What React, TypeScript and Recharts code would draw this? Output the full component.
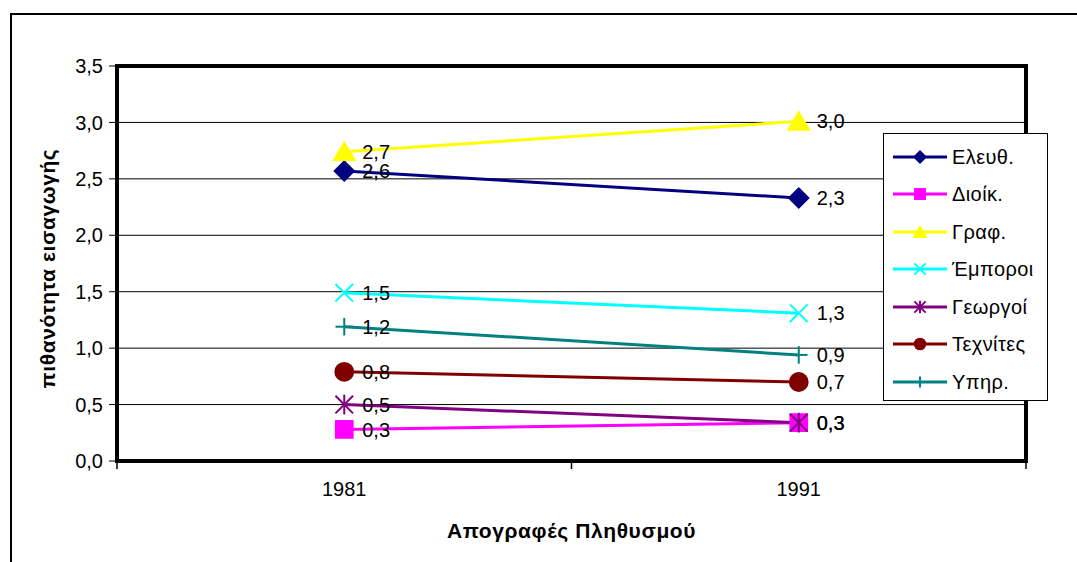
// Line chart: probability of admission by parental occupation, census 1981 vs 1991
import React from 'react';
import {
  LineChart,
  Line,
  XAxis,
  YAxis,
  CartesianGrid,
  Legend,
  LabelList,
  ReferenceArea,
} from 'recharts';

// ---- data ----
const years = ['1981', '1991'];
const eleuth = [2.57, 2.33];
const dioik = [0.28, 0.34];
const graf = [2.74, 3.01];
const emporoi = [1.49, 1.31];
const georgoi = [0.5, 0.34];
const texnites = [0.79, 0.7];
const yphr = [1.19, 0.94];
const yTicks = [0, 0.5, 1, 1.5, 2, 2.5, 3, 3.5];

type MarkerKind = 'diamond' | 'square' | 'triangle' | 'x' | 'star' | 'circle' | 'plus';

type Series = { key: string; name: string; color: string; marker: MarkerKind; values: number[] };

const series: Series[] = [
  { key: 'eleuth', name: 'Ελευθ.', color: '#000080', marker: 'diamond', values: eleuth },
  { key: 'dioik', name: 'Διοίκ.', color: '#FF00FF', marker: 'square', values: dioik },
  { key: 'graf', name: 'Γραφ.', color: '#FFFF00', marker: 'triangle', values: graf },
  { key: 'emporoi', name: 'Έμποροι', color: '#00FFFF', marker: 'x', values: emporoi },
  { key: 'georgoi', name: 'Γεωργοί', color: '#800080', marker: 'star', values: georgoi },
  { key: 'texnites', name: 'Τεχνίτες', color: '#800000', marker: 'circle', values: texnites },
  { key: 'yphr', name: 'Υπηρ.', color: '#008080', marker: 'plus', values: yphr },
];

const chartData = years.map((year, i) => {
  const row: Record<string, string | number> = { year };
  series.forEach((s) => {
    row[s.key] = s.values[i];
  });
  return row;
});

const FONT = '"Liberation Sans", Arial, sans-serif';
const comma = (v: number) => Number(v).toFixed(1).replace('.', ',');
const titleStyle = { fontFamily: FONT, fontSize: 21, fontWeight: 'bold', fill: '#000', letterSpacing: 0.6 };

const X_TICK_SIZE = 6;
const X_TICK_MARGIN = 15;

// draws one marker shape centred on (cx, cy); s = half size
const renderMarker = (kind: MarkerKind, color: string, cx: number, cy: number, s: number, key?: string) => {
  switch (kind) {
    case 'diamond':
      return (
        <polygon key={key} points={`${cx},${cy - s} ${cx + s},${cy} ${cx},${cy + s} ${cx - s},${cy}`} fill={color} />
      );
    case 'square':
      return <rect key={key} x={cx - s * 0.85} y={cy - s * 0.85} width={s * 1.7} height={s * 1.7} fill={color} />;
    case 'triangle':
      return (
        <polygon
          key={key}
          points={`${cx},${cy - s} ${cx + s * 1.1},${cy + s * 0.85} ${cx - s * 1.1},${cy + s * 0.85}`}
          fill={color}
        />
      );
    case 'x':
      return (
        <g key={key} stroke={color} strokeWidth={2}>
          <line x1={cx - s * 0.8} y1={cy - s * 0.8} x2={cx + s * 0.8} y2={cy + s * 0.8} />
          <line x1={cx - s * 0.8} y1={cy + s * 0.8} x2={cx + s * 0.8} y2={cy - s * 0.8} />
        </g>
      );
    case 'star':
      return (
        <g key={key} stroke={color} strokeWidth={2}>
          <line x1={cx - s * 0.8} y1={cy - s * 0.8} x2={cx + s * 0.8} y2={cy + s * 0.8} />
          <line x1={cx - s * 0.8} y1={cy + s * 0.8} x2={cx + s * 0.8} y2={cy - s * 0.8} />
          <line x1={cx} y1={cy - s * 0.9} x2={cx} y2={cy + s * 0.9} />
        </g>
      );
    case 'circle':
      return <circle key={key} cx={cx} cy={cy} r={s * 0.9} fill={color} />;
    case 'plus':
    default:
      return (
        <g key={key} stroke={color} strokeWidth={2}>
          <line x1={cx - s * 0.8} y1={cy} x2={cx + s * 0.8} y2={cy} />
          <line x1={cx} y1={cy - s * 0.8} x2={cx} y2={cy + s * 0.8} />
        </g>
      );
  }
};

// category tick: label at band centre, tick marks on the band boundaries (Excel style)
const renderXTick = (p: any) => {
  const half = p.payload && p.payload.offset ? p.payload.offset : 0;
  const axisY = p.y - X_TICK_SIZE - X_TICK_MARGIN;
  const isLast = p.index === (p.visibleTicksCount ?? years.length) - 1;
  return (
    <g key={`xt-${p.index}`}>
      <line x1={p.x - half} y1={axisY} x2={p.x - half} y2={axisY + 8} stroke="#000" strokeWidth={1.5} />
      {isLast && <line x1={p.x + half} y1={axisY} x2={p.x + half} y2={axisY + 8} stroke="#000" strokeWidth={1.5} />}
      <text x={p.x} y={p.y} dy="0.71em" textAnchor="middle" style={{ fontFamily: FONT, fontSize: 20, fill: '#000' }}>
        {p.payload ? p.payload.value : ''}
      </text>
    </g>
  );
};

const ChartLegend = () => (
  <div
    style={{
      width: '100%',
      height: '100%',
      boxSizing: 'border-box',
      border: '1px solid #000',
      background: '#fff',
      paddingTop: 4,
    }}
  >
    {series.map((s) => (
      <div key={s.key} style={{ display: 'flex', alignItems: 'center', height: 37.5 }}>
        <svg width={68} height={20} style={{ flex: 'none' }}>
          <line x1={9} y1={10} x2={63} y2={10} stroke={s.color} strokeWidth={3} />
          {renderMarker(s.marker, s.color, 36, 10, 7)}
        </svg>
        <span style={{ fontFamily: FONT, fontSize: 20, color: '#000', lineHeight: 1, letterSpacing: 0.4 }}>{s.name}</span>
      </div>
    ))}
  </div>
);

const App: React.FC = () => (
  <div style={{ position: 'absolute', left: 0, top: 0, width: 1077, height: 562, overflow: 'hidden', background: '#fff' }}>
    {/* outer chart frame (runs past the right and bottom edges) */}
    <div
      style={{
        position: 'absolute',
        left: 10,
        top: 13,
        width: 1100,
        height: 600,
        border: '2px solid #000',
        boxSizing: 'border-box',
      }}
    />
    <div style={{ position: 'absolute', left: 0, top: 0 }}>
      <LineChart width={1077} height={562} data={chartData} margin={{ top: 66, right: 51, left: 20, bottom: 16 }}>
        <CartesianGrid horizontal vertical={false} stroke="#000" strokeWidth={1} />
        <XAxis
          dataKey="year"
          scale="band"
          axisLine={false}
          tickLine={false}
          tickSize={X_TICK_SIZE}
          tickMargin={X_TICK_MARGIN}
          height={85}
          tick={renderXTick}
          label={{
            value: 'Απογραφές Πληθυσμού',
            position: 'insideBottom',
            offset: 8,
            style: titleStyle,
          }}
        />
        <YAxis
          domain={[0, 3.5]}
          ticks={yTicks}
          width={97}
          axisLine={false}
          tickLine={{ stroke: '#000', strokeWidth: 1 }}
          tickSize={8}
          tickMargin={6}
          tickFormatter={comma}
          tick={{ fontFamily: FONT, fontSize: 20, fill: '#000' }}
          label={{
            content: (p: any) => {
              const vb = p.viewBox || { x: 20, y: 66, height: 395 };
              const cx = vb.x + 27;
              const cy = vb.y + vb.height / 2 + 5;
              return (
                <text
                  x={cx}
                  y={cy}
                  transform={`rotate(-90 ${cx} ${cy})`}
                  textAnchor="middle"
                  dominantBaseline="central"
                  style={titleStyle}
                >
                  πιθανότητα εισαγωγής
                </text>
              );
            },
          }}
        />
        {/* thick plot-area frame */}
        <ReferenceArea y1={0} y2={3.5} fill="none" stroke="#000" strokeWidth={4} ifOverflow="visible" />
        <Legend
          layout="vertical"
          align="center"
          verticalAlign="middle"
          content={() => <ChartLegend />}
          wrapperStyle={{ left: 883, top: 133, width: 165, height: 268 }}
        />
        {series.map((s) => (
          <Line
            key={s.key}
            dataKey={s.key}
            name={s.name}
            stroke={s.color}
            strokeWidth={3}
            isAnimationActive={false}
            activeDot={false}
            dot={(p: any) => renderMarker(s.marker, s.color, p.cx, p.cy, 11, `${s.key}-${p.index}`)}
          >
            <LabelList
              dataKey={s.key}
              position="right"
              offset={18}
              formatter={(v: any) => comma(Number(v))}
              style={{ fontFamily: FONT, fontSize: 20, fill: '#000' }}
            />
          </Line>
        ))}
      </LineChart>
    </div>
  </div>
);

export default App;
